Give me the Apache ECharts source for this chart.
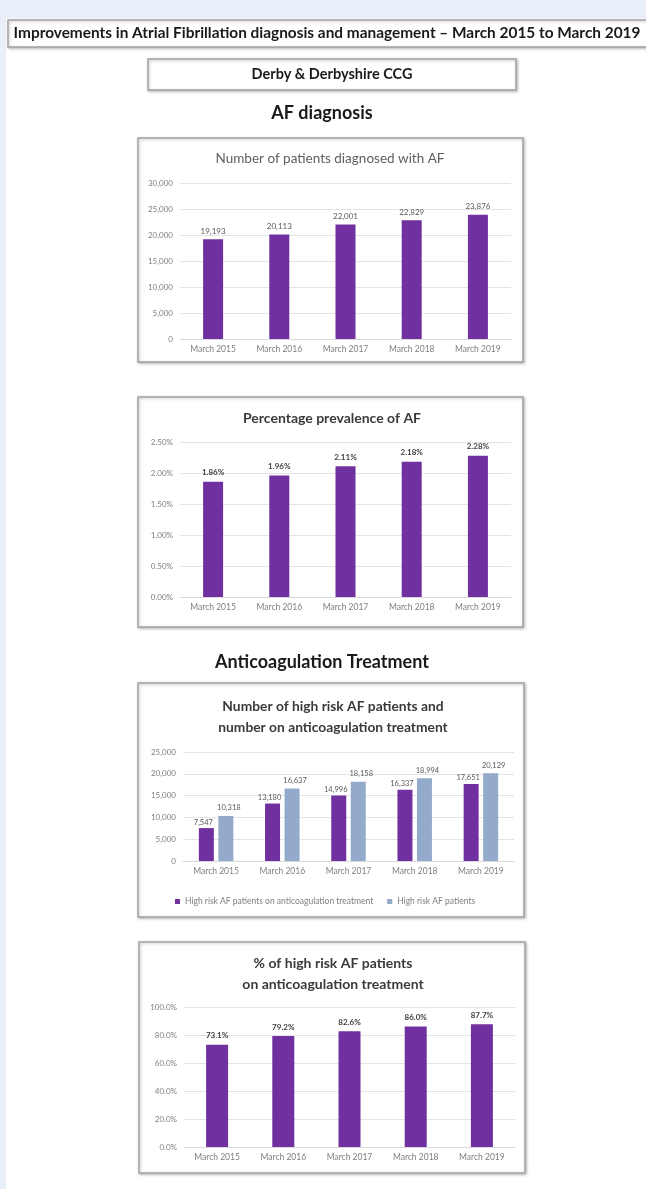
<!DOCTYPE html>
<html><head><meta charset="utf-8">
<script src="https://cdn.jsdelivr.net/npm/echarts@6/dist/echarts.min.js"></script>
<style>html,body{margin:0;padding:0;background:#fff}#c{width:646px;height:1189px}</style>
</head><body><div id="c"></div>
<script>
const categories = ['March 2015','March 2016','March 2017','March 2018','March 2019'];
const diagnosedCounts = [19193, 20113, 22001, 22829, 23876];
const prevalencePct = [1.86, 1.96, 2.11, 2.18, 2.28];
const onAnticoagCounts = [7547, 13180, 14996, 16337, 17651];
const highRiskCounts = [10318, 16637, 18158, 18994, 20129];
const pctOnAnticoag = [73.1, 79.2, 82.6, 86.0, 87.7];
const seriesNames = ['High risk AF patients on anticoagulation treatment', 'High risk AF patients'];

const FONT = 'Lato, "Open Sans", sans-serif';
const PURPLE = '#7030a0';
const STEEL = '#93aacb';
const fmtInt = v => Number(v).toLocaleString('en-US');

const chart = echarts.init(document.getElementById('c'), null, {renderer: 'canvas'});

function xAx(i) {
  return {
    type: 'category', gridIndex: i, data: categories,
    axisLine: {lineStyle: {color: '#d9d9d9'}}, axisTick: {show: false},
    axisLabel: {color: '#7f7f7f', fontSize: 8.5, fontFamily: FONT, margin: 6}
  };
}
function yAx(i, max, interval, fmt) {
  return {
    type: 'value', gridIndex: i, min: 0, max: max, interval: interval,
    axisLine: {show: false}, axisTick: {show: false},
    splitLine: {lineStyle: {color: '#e3e3e3'}},
    axisLabel: {color: '#7f7f7f', fontSize: 8, fontFamily: FONT, margin: 7, formatter: fmt}
  };
}
function boxRect(x, y, w, h) {
  return {type: 'rect', shape: {x: x, y: y, width: w, height: h}, z: -5,
    style: {fill: '#ffffff', stroke: '#a3a3a3', lineWidth: 1.5, shadowBlur: 3, shadowColor: 'rgba(0,0,0,0.25)', shadowOffsetX: 1, shadowOffsetY: 1}};
}
function txt(x, y, s, size, weight, color) {
  return {type: 'text', x: x, y: y, z: 5,
    style: {text: s, fontSize: size, fontWeight: weight, fill: color, fontFamily: FONT, align: 'center', verticalAlign: 'middle'}};
}

const option = {
  backgroundColor: '#ffffff',
  animation: false,
  textStyle: {fontFamily: FONT},
  graphic: [
    {type: 'rect', shape: {x: 0, y: 0, width: 646, height: 18}, z: -10, style: {fill: '#e9eff8'}},
    {type: 'rect', shape: {x: 0, y: 0, width: 6, height: 1189}, z: -10, style: {fill: '#e9eff8'}},
    boxRect(8, 20, 650, 27),
    txt(327, 33.5, 'Improvements in Atrial Fibrillation diagnosis and management \u2013 March 2015 to March 2019', 15.4, 'bold', '#1a1a1a'),
    boxRect(148, 59, 368, 31),
    txt(332, 74.5, 'Derby & Derbyshire CCG', 14.5, 'bold', '#1a1a1a'),
    txt(322, 113, 'AF diagnosis', 18, 'bold', '#1a1a1a'),
    boxRect(138, 138, 385, 224),
    txt(330, 159, 'Number of patients diagnosed with AF', 13.5, 'normal', '#5f5f5f'),
    boxRect(138, 397, 385, 230),
    txt(332, 418, 'Percentage prevalence of AF', 14, 'bold', '#3a3a3a'),
    txt(322, 662, 'Anticoagulation Treatment', 18, 'bold', '#1a1a1a'),
    boxRect(138, 683, 386, 234),
    txt(333, 707, 'Number of high risk AF patients and', 13.8, 'bold', '#3a3a3a'),
    txt(333, 728, 'number on anticoagulation treatment', 13.8, 'bold', '#3a3a3a'),
    boxRect(139, 942, 386, 231),
    txt(333, 963, '% of high risk AF patients', 14, 'bold', '#3a3a3a'),
    txt(333, 984, 'on anticoagulation treatment', 14, 'bold', '#3a3a3a')
  ],
  grid: [
    {left: 180, top: 183, width: 331, height: 156},
    {left: 180, top: 442, width: 331, height: 155},
    {left: 183, top: 752, width: 331, height: 109},
    {left: 184, top: 1007, width: 331, height: 140}
  ],
  xAxis: [xAx(0), xAx(1), xAx(2), xAx(3)],
  yAxis: [
    yAx(0, 30000, 5000, v => v === 0 ? '0' : fmtInt(v)),
    yAx(1, 2.5, 0.5, v => v.toFixed(2) + '%'),
    yAx(2, 25000, 5000, v => v === 0 ? '0' : fmtInt(v)),
    yAx(3, 100, 20, v => v.toFixed(1) + '%')
  ],
  legend: {
    left: 170, top: 892, itemWidth: 5, itemHeight: 5, itemGap: 14, icon: 'rect',
    data: seriesNames,
    textStyle: {fontSize: 8.5, color: '#7f7f7f', fontFamily: FONT}
  },
  series: [
    {type: 'bar', xAxisIndex: 0, yAxisIndex: 0, data: diagnosedCounts, barWidth: 20,
      itemStyle: {color: PURPLE},
      label: {show: true, position: 'top', distance: 4, fontSize: 8, color: '#595959', fontFamily: FONT, formatter: p => fmtInt(p.value)}},
    {type: 'bar', xAxisIndex: 1, yAxisIndex: 1, data: prevalencePct, barWidth: 20,
      itemStyle: {color: PURPLE},
      label: {show: true, position: 'top', distance: 5, fontSize: 8, fontWeight: 'bold', color: '#404040', fontFamily: FONT, formatter: p => p.value.toFixed(2) + '%'}},
    {type: 'bar', name: seriesNames[0], xAxisIndex: 2, yAxisIndex: 2, data: onAnticoagCounts, barWidth: 15, barGap: '30%',
      itemStyle: {color: PURPLE},
      label: {show: true, position: 'top', distance: 2, offset: [-3, 0], fontSize: 7.5, color: '#595959', fontFamily: FONT, formatter: p => fmtInt(p.value)}},
    {type: 'bar', name: seriesNames[1], xAxisIndex: 2, yAxisIndex: 2, data: highRiskCounts, barWidth: 15, barGap: '30%',
      itemStyle: {color: STEEL},
      label: {show: true, position: 'top', distance: 4, offset: [3, 0], fontSize: 7.5, color: '#595959', fontFamily: FONT, formatter: p => fmtInt(p.value)}},
    {type: 'bar', xAxisIndex: 3, yAxisIndex: 3, data: pctOnAnticoag, barWidth: 22,
      itemStyle: {color: PURPLE},
      label: {show: true, position: 'top', distance: 5, fontSize: 8, fontWeight: 'bold', color: '#404040', fontFamily: FONT, formatter: p => p.value.toFixed(1) + '%'}}
  ]
};
chart.setOption(option);
</script>
</body></html>
